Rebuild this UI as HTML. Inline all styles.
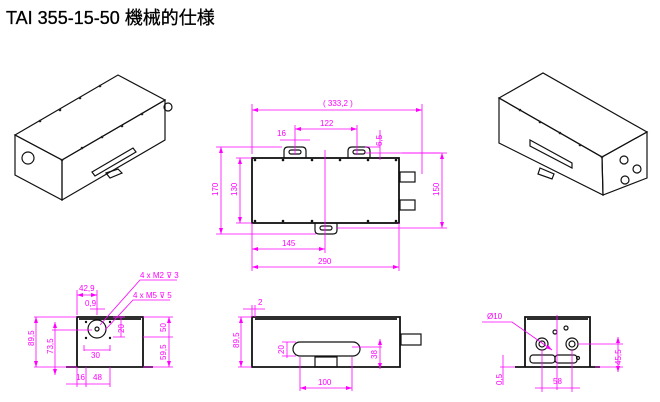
<!DOCTYPE html>
<html><head><meta charset="utf-8"><style>
body{margin:0;background:#fff}
svg{display:block}
.k{stroke:#111;fill:none;stroke-width:1.2}
.kb{stroke:#111;fill:none;stroke-width:1.8}
.m{stroke:#f0f;fill:none;stroke-width:0.8}
.t{fill:#f0f;font-family:"Liberation Sans",sans-serif;font-size:8px}
</style></head><body>
<svg width="660" height="402" viewBox="0 0 660 402" xmlns="http://www.w3.org/2000/svg">
<defs><marker id="a" markerWidth="6" markerHeight="4" refX="6" refY="2" orient="auto-start-reverse" markerUnits="userSpaceOnUse"><path d="M0,0 L6,2 L0,4 z" fill="#f0f"/></marker></defs>
<text x="6" y="24" font-family="'Liberation Sans','Noto Sans CJK JP',sans-serif" font-size="18" fill="#000" stroke="#000" stroke-width="0.3">TAI 355-15-50 機械的仕様</text>

<!-- left iso -->
<g class="k">
<polygon points="15,135 118,75 165,100 62,160"/>
<polygon points="15,135 62,160 62,200 15,175"/>
<polygon points="62,160 165,100 165,140 62,200"/>
<polygon points="92,172 133,148 136,152 95,176" />
<path d="M106,173 l12,-4 l4,4 l-12,5 z"/>
<circle cx="28" cy="158" r="6"/>
<circle cx="168" cy="107" r="4"/>
</g>
<g fill="#222"><circle cx="40" cy="121" r="1.3"/><circle cx="60" cy="110" r="1.3"/><circle cx="80" cy="98" r="1.3"/><circle cx="100" cy="86" r="1.3"/><circle cx="82" cy="148" r="1.3"/><circle cx="102" cy="137" r="1.3"/><circle cx="122" cy="126" r="1.3"/><circle cx="142" cy="114" r="1.3"/><circle cx="62" cy="160" r="1.3"/></g>

<!-- right iso -->
<g class="k">
<polygon points="499,98 543,73 647,132 602,157"/>
<polygon points="499,98 602,157 603,195 499,143"/>
<polygon points="602,157 647,132 647,178 603,195"/>
<polygon points="530,140 572,163 572,168 530,146"/>
<path d="M540,168 l14,6 l-2,5 l-14,-5 z"/>
<circle cx="624" cy="160" r="4"/><circle cx="637" cy="169" r="4"/>
<circle cx="625" cy="180" r="4"/>
</g>
<g fill="#222"><circle cx="520" cy="110" r="1.3"/><circle cx="540" cy="122" r="1.3"/><circle cx="560" cy="133" r="1.3"/><circle cx="580" cy="145" r="1.3"/><circle cx="602" cy="157" r="1.3"/></g>

<!-- top view -->
<g class="kb"><rect x="252" y="158" width="147" height="65"/></g>
<g class="k">
<path d="M284,158 v-7 q0,-4 4,-4 h14 q4,0 4,4 v7"/><rect x="289" y="150" width="12" height="4" rx="2"/>
<path d="M348,158 v-7 q0,-4 4,-4 h14 q4,0 4,4 v7"/><rect x="353" y="150" width="12" height="4" rx="2"/>
<path d="M315,223 v7 q0,4 4,4 h14 q4,0 4,-4 v-7"/><rect x="320" y="226" width="12" height="4" rx="2"/>
<rect x="400" y="172" width="15" height="10"/><rect x="400" y="200" width="15" height="10"/>
</g>
<g fill="#111"><circle cx="255" cy="160" r="1.3"/><circle cx="283" cy="160" r="1.3"/><circle cx="312" cy="160" r="1.3"/><circle cx="340" cy="160" r="1.3"/><circle cx="368" cy="160" r="1.3"/><circle cx="396" cy="160" r="1.3"/><circle cx="255" cy="221" r="1.3"/><circle cx="283" cy="221" r="1.3"/><circle cx="312" cy="221" r="1.3"/><circle cx="368" cy="221" r="1.3"/><circle cx="396" cy="221" r="1.3"/></g>
<g class="m">
<path d="M252,104 v50 M422,104 v70"/>
<path d="M252,110 h170" marker-start="url(#a)" marker-end="url(#a)"/>
<path d="M295,129 h62" marker-start="url(#a)" marker-end="url(#a)"/>
<path d="M295,125 v30 M357,125 v30"/>
<path d="M280,140 h30"/>
<path d="M365,153 h75 M365,147 h15 M380,130 v30"/>
<path d="M216,147 h66 M216,234 h100"/>
<path d="M221,147 v87" marker-start="url(#a)" marker-end="url(#a)"/>
<path d="M236,158 h16 M236,223 h16"/>
<path d="M240,158 v65" marker-start="url(#a)" marker-end="url(#a)"/>
<path d="M337,228 h110 M402,153 h45"/>
<path d="M442,153 v75" marker-start="url(#a)" marker-end="url(#a)"/>
<path d="M252,223 v48 M325,150 v103 M399,223 v48"/>
<path d="M252,249 h73" marker-start="url(#a)" marker-end="url(#a)"/>
<path d="M252,267 h147" marker-start="url(#a)" marker-end="url(#a)"/>
</g>
<text class="t" x="323" y="106">( 333,2 )</text>
<text class="t" x="320" y="126">122</text>
<text class="t" x="277" y="136">16</text>
<text class="t" transform="translate(382,146) rotate(-90)">6,5</text>
<text class="t" transform="translate(218,196) rotate(-90)">170</text>
<text class="t" transform="translate(237,196) rotate(-90)">130</text>
<text class="t" transform="translate(439,196) rotate(-90)">150</text>
<text class="t" x="282" y="246">145</text>
<text class="t" x="318" y="264">290</text>

<!-- bottom left -->
<g class="kb"><path d="M77,367 v-50 h66 v50 M66,367 h87 M79,319 h62"/></g>
<g class="k"><circle cx="97" cy="329" r="9"/><circle cx="97" cy="329" r="2"/></g>
<g fill="#111"><circle cx="86" cy="322" r="1.2"/><circle cx="110" cy="322" r="1.2"/><circle cx="86" cy="338" r="1.2"/><circle cx="110" cy="338" r="1.2"/></g>
<g class="m">
<path d="M77,290 v25 M97,290 v25"/>
<path d="M77,295 h20" marker-start="url(#a)" marker-end="url(#a)"/>
<path d="M90,309 h15"/>
<path d="M34,317 h43 M34,367 h43 M52,330 h40"/>
<path d="M36,317 v50" marker-start="url(#a)" marker-end="url(#a)"/>
<path d="M55,322 v53" marker-start="url(#a)" marker-end="url(#a)"/>
<path d="M121,317 v20 M113,317 h12 M113,337 h12"/>
<path d="M143,317 h30 M143,337 h30 M143,367 h30"/>
<path d="M169,317 v50" marker-start="url(#a)" marker-end="url(#a)"/>
<path d="M84,345 v6 M110,345 v6 M84,350 h26"/>
<path d="M66,384 h44 M77,367 v20 M86,367 v20 M110,367 v20"/>
<path d="M100,325 L140,280 H177 M105,330 L133,300 H170"/>
</g>
<text class="t" x="79" y="291">42,9</text>
<text class="t" x="85" y="306">0,9</text>
<text class="t" x="140" y="278">4 x M2 ⊽ 3</text>
<text class="t" x="133" y="298">4 x M5 ⊽ 5</text>
<text class="t" transform="translate(34,346) rotate(-90)">89,5</text>
<text class="t" transform="translate(53,354) rotate(-90)">73,5</text>
<text class="t" transform="translate(124,333) rotate(-90)">20</text>
<text class="t" transform="translate(166,332) rotate(-90)">50</text>
<text class="t" transform="translate(166,360) rotate(-90)">59,5</text>
<text class="t" x="91" y="358">30</text>
<text class="t" x="76" y="380">16</text>
<text class="t" x="93" y="380">48</text>

<!-- bottom middle -->
<g class="kb"><path d="M252,367 v-50 h148 v50 z M255,319 h142"/></g>
<g class="k">
<path d="M300,342 h53 a7,7 0 0 1 0,14 h-53 a7,7 0 0 1 0,-14 z"/>
<rect x="315" y="357" width="22" height="10"/>
<rect x="401" y="334" width="20" height="11"/>
</g>
<g class="m">
<path d="M243,309 h22 M252,305 v12 M255,305 v12"/>
<path d="M238,317 h14 M238,367 h14"/>
<path d="M241,317 v50" marker-start="url(#a)" marker-end="url(#a)"/>
<path d="M287,342 v16 M282,342 h14 M282,356 h14"/>
<path d="M352,347 h30 M352,357 v34 M300,357 v34"/>
<path d="M380,339 v30" marker-start="url(#a)" marker-end="url(#a)"/>
<path d="M300,388 h52" marker-start="url(#a)" marker-end="url(#a)"/>
</g>
<text class="t" x="258" y="305">2</text>
<text class="t" transform="translate(239,348) rotate(-90)">89,5</text>
<text class="t" transform="translate(284,354) rotate(-90)">20</text>
<text class="t" transform="translate(377,359) rotate(-90)">38</text>
<text class="t" x="318" y="385">100</text>

<!-- bottom right -->
<g class="kb"><path d="M525,367 v-50 h65 v50 z M515,367 h85 M527,319 h61"/></g>
<g class="k">
<circle cx="542" cy="344" r="6"/><circle cx="542" cy="344" r="3"/>
<circle cx="572" cy="344" r="6"/><circle cx="572" cy="344" r="3"/>
<rect x="530" y="355" width="25" height="8" rx="3"/><rect x="555" y="355" width="22" height="8" rx="3"/>
<circle cx="555" cy="332" r="2"/><circle cx="566" cy="328" r="2"/><circle cx="578" cy="358" r="1.5"/>
</g>
<g class="m">
<path d="M557,315 v75"/>
<path d="M482,322 h30 L552,350" marker-end="url(#a)"/>
<path d="M542,350 v42 M572,350 v42"/>
<path d="M535,388 h45"/>
<path d="M578,344 h45 M595,367 h28"/>
<path d="M618,337 v35" marker-start="url(#a)" marker-end="url(#a)"/>
<path d="M500,367 h15 M503,355 v30"/>
</g>
<text class="t" x="487" y="319" font-size="10">Ø10</text>
<text class="t" x="553" y="384">58</text>
<text class="t" transform="translate(621,365) rotate(-90)">45,5</text>
<text class="t" transform="translate(502,385) rotate(-90)">0,5</text>
</svg>
</body></html>
